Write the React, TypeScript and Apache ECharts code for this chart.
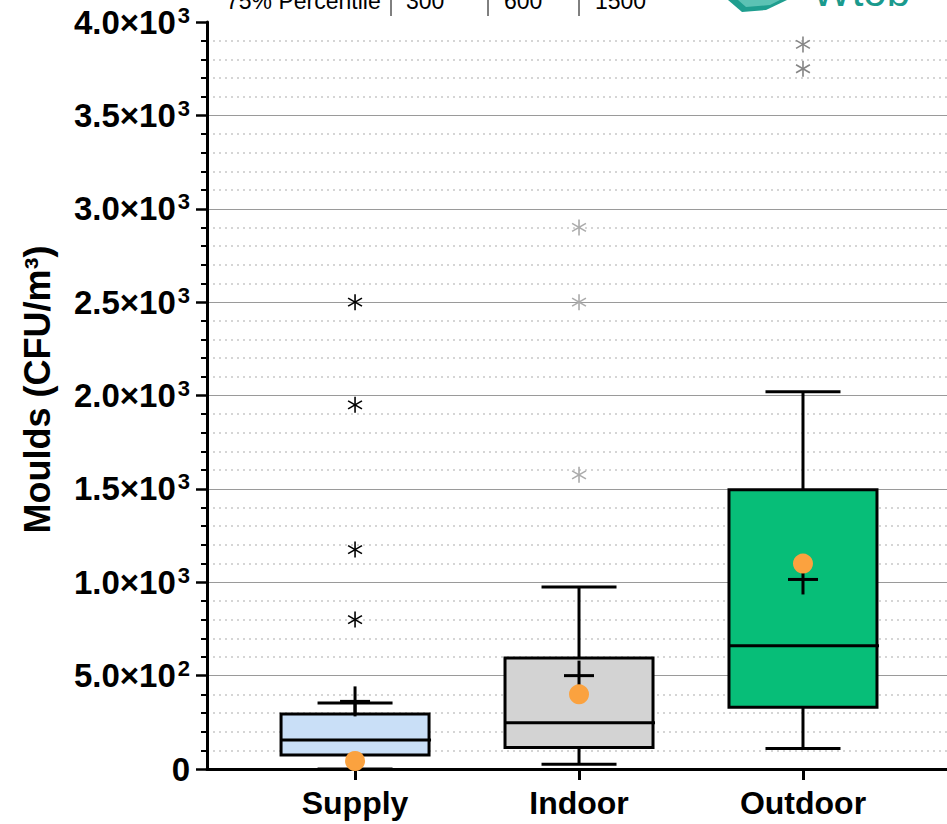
import React, { useEffect, useRef } from "react";
import * as echarts from "echarts";

// ---- data ----
const categories = ["Supply", "Indoor", "Outdoor"];
const whiskerLow = [0, 25, 110];
const q1 = [75, 115, 330];
const median = [155, 248, 660];
const q3 = [295, 595, 1495];
const whiskerHigh = [353, 975, 2020];
const mean = [362, 500, 1015];
const dotValue = [43, 400, 1100];
const supplyOutliers = [2500, 1950, 1175, 800];
const indoorOutliers = [2900, 2500, 1575];
const outdoorOutliers = [3880, 3750];
const tableLabel = "75% Percentile";
const tableValues = ["300", "600", "1500"];

// ---- styles ----
const FONT = "'Liberation Sans', Arial, sans-serif";
const boxColors = ["#c9dff7", "#d3d3d3", "#07be78"];
const outlierColors = ["#000000", "#ababab", "#858585"];
const dotColor = "#fba23f";

export default function App() {
  const ref = useRef<HTMLDivElement>(null);
  useEffect(() => {
    document.body.style.margin = "0";
    const chart = echarts.init(ref.current!, null, { renderer: "svg" });

    const boxData = categories.map((_, i) => [
      i, whiskerLow[i], q1[i], median[i], q3[i], whiskerHigh[i], mean[i], dotValue[i],
    ]);
    const outlierData: number[][] = [];
    [supplyOutliers, indoorOutliers, outdoorOutliers].forEach((arr, i) =>
      arr.forEach((v) => outlierData.push([i, v]))
    );

    const yFormatter = (v: number) => {
      if (v === 0) return "{b|0}";
      const e = Math.floor(Math.log10(v) + 1e-9);
      const m = v / Math.pow(10, e);
      return `{b|${m.toFixed(1)}×10}{s|${e}}`;
    };

    const option: any = {
      animation: false,
      textStyle: { fontFamily: FONT },
      grid: { left: 207, right: 0, top: 22, bottom: 55, containLabel: false },
      xAxis: {
        type: "value",
        min: -0.661,
        max: 2.643,
        axisLine: { show: true, onZero: false, lineStyle: { color: "#000", width: 3 } },
        axisTick: { show: true, customValues: [0, 1, 2], length: 11, lineStyle: { color: "#000", width: 3 } },
        axisLabel: {
          customValues: [0, 1, 2],
          formatter: (v: number) => categories[Math.round(v)],
          fontSize: 32,
          fontWeight: "bold",
          color: "#000",
          fontFamily: FONT,
          margin: 18,
        },
        splitLine: { show: false },
      },
      yAxis: {
        type: "value",
        min: 0,
        max: 4000,
        interval: 500,
        axisLine: { show: true, onZero: false, lineStyle: { color: "#000", width: 3 } },
        axisTick: { show: true, length: 11, lineStyle: { color: "#000", width: 2.5 } },
        minorTick: { show: true, splitNumber: 5, length: 6, lineStyle: { color: "#000", width: 2 } },
        splitLine: { show: true, showMinLine: false, showMaxLine: false, lineStyle: { color: "#9a9a9a", width: 1 } },
        minorSplitLine: { show: true, lineStyle: { color: "#c8c8c8", width: 1.5, type: [2, 4] } },
        axisLabel: {
          margin: 17,
          formatter: yFormatter,
          rich: {
            b: { fontSize: 33, fontWeight: "bold", color: "#000", fontFamily: FONT, lineHeight: 36 },
            s: { fontSize: 22, fontWeight: "bold", color: "#000", fontFamily: FONT, lineHeight: 36, verticalAlign: "top", padding: [0, 0, 0, 2] },
          },
        },
        name: "Moulds (CFU/m³)",
        nameLocation: "middle",
        nameGap: 152,
        nameRotate: 90,
        nameTextStyle: { fontSize: 36, fontWeight: "bold", color: "#000", fontFamily: FONT, padding: [0, 0, 0, 12] },
      },
      series: [
        {
          type: "custom",
          data: boxData,
          renderItem: (params: any, api: any) => {
            const i = api.value(0);
            const c = (v: number) => api.coord([i, v]);
            const [cx, yLow] = c(api.value(1));
            const yQ1 = c(api.value(2))[1];
            const yMed = c(api.value(3))[1];
            const yQ3 = c(api.value(4))[1];
            const yHigh = c(api.value(5))[1];
            const yMean = c(api.value(6))[1];
            const yDot = c(api.value(7))[1];
            const ls = { stroke: "#000", lineWidth: 3 };
            const bw = 74, cw = 37.5, pw = 15;
            return {
              type: "group",
              children: [
                { type: "line", shape: { x1: cx, y1: yQ3, x2: cx, y2: yHigh }, style: ls },
                { type: "line", shape: { x1: cx, y1: yQ1, x2: cx, y2: yLow }, style: ls },
                { type: "line", shape: { x1: cx - cw, y1: yHigh, x2: cx + cw, y2: yHigh }, style: ls },
                { type: "line", shape: { x1: cx - cw, y1: yLow, x2: cx + cw, y2: yLow }, style: ls },
                {
                  type: "rect",
                  shape: { x: cx - bw, y: yQ3, width: bw * 2, height: yQ1 - yQ3 },
                  style: { fill: boxColors[i], stroke: "#000", lineWidth: 3 },
                },
                { type: "line", shape: { x1: cx - bw, y1: yMed, x2: cx + bw + 2, y2: yMed }, style: ls },
                { type: "line", shape: { x1: cx - pw, y1: yMean, x2: cx + pw, y2: yMean }, style: ls },
                { type: "line", shape: { x1: cx, y1: yMean - pw, x2: cx, y2: yMean + pw }, style: ls },
                { type: "circle", shape: { cx, cy: yDot, r: 10 }, style: { fill: dotColor } },
              ],
            };
          },
        },
        {
          type: "custom",
          data: outlierData,
          renderItem: (params: any, api: any) => {
            const i = api.value(0);
            const [x, y] = api.coord([i, api.value(1)]);
            const r = 8;
            const dx = r * Math.cos(Math.PI / 6);
            const dy = r * Math.sin(Math.PI / 6);
            const st = { stroke: outlierColors[i], lineWidth: 1.6 };
            return {
              type: "group",
              children: [
                { type: "line", shape: { x1: x, y1: y - r, x2: x, y2: y + r }, style: st },
                { type: "line", shape: { x1: x - dx, y1: y - dy, x2: x + dx, y2: y + dy }, style: st },
                { type: "line", shape: { x1: x - dx, y1: y + dy, x2: x + dx, y2: y - dy }, style: st },
              ],
            };
          },
        },
      ],
      graphic: [
        { type: "text", x: 226, y: 1, style: { text: tableLabel, font: `23px ${FONT}`, fill: "#000", verticalAlign: "middle" } },
        { type: "line", shape: { x1: 391, y1: 0, x2: 391, y2: 16 }, style: { stroke: "#000", lineWidth: 1 } },
        { type: "text", x: 406, y: 1, style: { text: tableValues[0], font: `23px ${FONT}`, fill: "#000", verticalAlign: "middle" } },
        { type: "line", shape: { x1: 488, y1: 0, x2: 488, y2: 16 }, style: { stroke: "#000", lineWidth: 1 } },
        { type: "text", x: 504, y: 1, style: { text: tableValues[1], font: `23px ${FONT}`, fill: "#000", verticalAlign: "middle" } },
        { type: "line", shape: { x1: 579, y1: 0, x2: 579, y2: 16 }, style: { stroke: "#000", lineWidth: 1 } },
        { type: "text", x: 595, y: 1, style: { text: tableValues[2], font: `23px ${FONT}`, fill: "#000", verticalAlign: "middle" } },
        {
          type: "polygon",
          shape: { points: [[728, 0], [742, 12], [766, 10], [787, 0]] },
          style: { fill: "#1f9e8f" },
        },
        {
          type: "polygon",
          shape: { points: [[738, 0], [746, 7], [770, 5], [780, 0]] },
          style: { fill: "#5cc2b4" },
        },
        { type: "text", x: 812, y: -9, style: { text: "Wtob", font: `42px ${FONT}`, fill: "#1a9a8d", verticalAlign: "middle" } },
      ],
    };
    chart.setOption(option);
    return () => chart.dispose();
  }, []);
  return <div ref={ref} style={{ width: 947, height: 824 }} />;
}
